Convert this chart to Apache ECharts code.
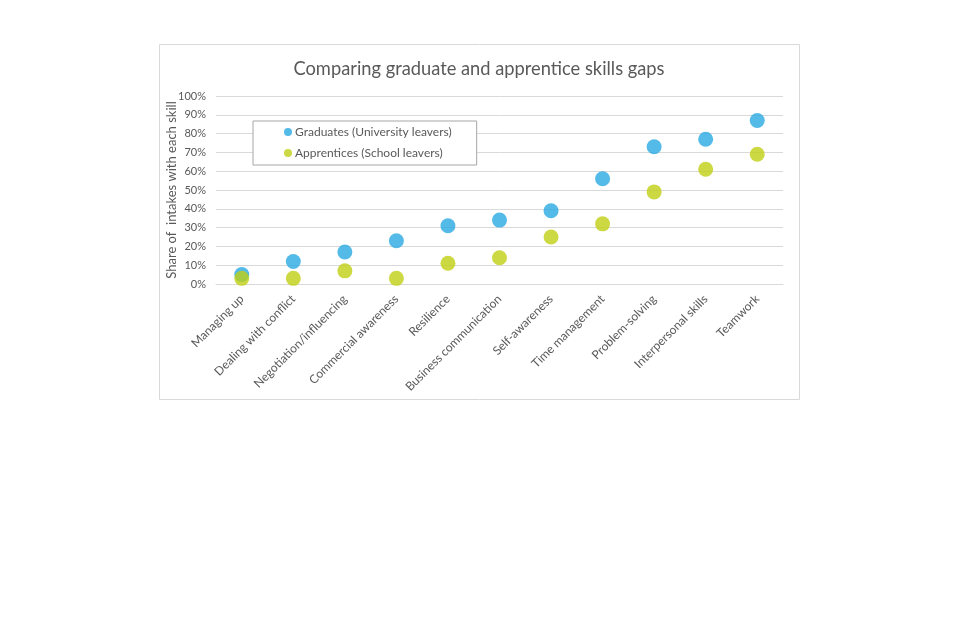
<!DOCTYPE html>
<html>
<head>
<meta charset="utf-8">
<script src="https://cdn.jsdelivr.net/npm/echarts@6/dist/echarts.min.js"></script>
<style>
html,body{margin:0;padding:0;background:#fff;}
#chart{width:960px;height:640px;}
</style>
</head>
<body>
<div id="chart"></div>
<script>
const categories = ["Managing up","Dealing with conflict","Negotiation/influencing","Commercial awareness","Resilience","Business communication","Self-awareness","Time management","Problem-solving","Interpersonal skills","Teamwork"];
const graduates = [5, 12, 17, 23, 31, 34, 39, 56, 73, 77, 87];
const apprentices = [3, 3, 7, 3, 11, 14, 25, 32, 49, 61, 69];
const yTicks = [0, 10, 20, 30, 40, 50, 60, 70, 80, 90, 100];

const FONT = "Lato, 'Open Sans', sans-serif";
const TXT = "#595959";
const chart = echarts.init(document.getElementById('chart'), null, {renderer:'canvas'});
chart.setOption({
  backgroundColor: '#fff',
  animation: false,
  textStyle: {fontFamily: FONT},
  graphic: [{
    type: 'rect', left: 159, top: 44, z: -10,
    shape: {width: 640, height: 355},
    style: {fill: '#fff', stroke: '#d9d9d9', lineWidth: 1}
  }],
  title: {
    text: 'Comparing graduate and apprentice skills gaps',
    left: 474, top: 55, textAlign: 'center',
    textStyle: {fontFamily: FONT, fontSize: 18.3, fontWeight: 'normal', color: TXT}
  },
  legend: {
    orient: 'vertical', left: 253, top: 121,
    backgroundColor: '#fff',
    borderColor: '#a6a6a6', borderWidth: 1,
    padding: [5, 25, 6, 31],
    itemGap: 9, itemWidth: 8, itemHeight: 8, icon: 'circle',
    textStyle: {fontFamily: FONT, fontSize: 12, color: TXT, padding: [0,0,0,-2]},
    data: ['Graduates (University leavers)', 'Apprentices (School leavers)']
  },
  grid: {left: 216, right: 177, top: 96, bottom: 356, containLabel: false},
  xAxis: {
    type: 'category', data: categories, boundaryGap: true,
    axisLine: {show: true, lineStyle: {color: '#d9d9d9'}},
    axisTick: {show: false},
    axisLabel: {rotate: 45, interval: 0, margin: 13, fontFamily: FONT, fontSize: 12, color: TXT}
  },
  yAxis: {
    type: 'value', min: 0, max: 100, interval: 10,
    name: 'Share of  intakes with each skill',
    nameLocation: 'middle', nameRotate: 90, nameGap: 38, nameMoveOverlap: false,
    nameTextStyle: {fontFamily: FONT, fontSize: 13, color: TXT},
    axisLine: {show: false}, axisTick: {show: false},
    splitLine: {lineStyle: {color: '#d9d9d9', width: 1}},
    axisLabel: {formatter: v => yTicks.includes(v) ? v + '%' : '', margin: 10, fontFamily: FONT, fontSize: 11, color: TXT}
  },
  series: [
    {name: 'Graduates (University leavers)', type: 'scatter', data: graduates, symbolSize: 15,
     itemStyle: {color: '#29a9e1'}},
    {name: 'Apprentices (School leavers)', type: 'scatter', data: apprentices, symbolSize: 15,
     itemStyle: {color: '#c0cf14'}}
  ]
});
</script>
</body>
</html>
